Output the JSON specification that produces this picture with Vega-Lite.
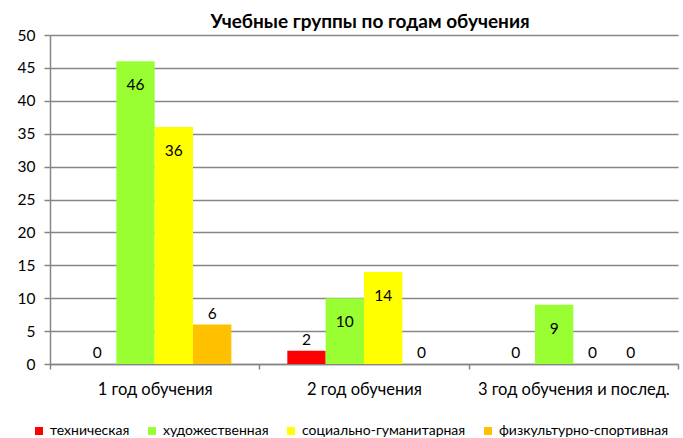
{
  "$schema": "https://vega.github.io/schema/vega-lite/v6.json",
  "width": 628,
  "height": 329,
  "autosize": {"type": "none"},
  "padding": {"left": 50, "top": 35, "right": 5, "bottom": 74},
  "background": "white",
  "config": {"font": "Lato", "view": {"stroke": null}},
  "title": {"text": "Учебные группы по годам обучения", "font": "Lato", "fontSize": 19, "fontWeight": "bold", "color": "black", "anchor": "middle", "offset": -4, "dx": 6},
  "data": {"values": [
    {"year": "1 год обучения", "dir": "техническая", "value": 0},
    {"year": "1 год обучения", "dir": "художественная", "value": 46},
    {"year": "1 год обучения", "dir": "социально-гуманитарная", "value": 36},
    {"year": "1 год обучения", "dir": "физкультурно-спортивная", "value": 6},
    {"year": "2 год обучения", "dir": "техническая", "value": 2},
    {"year": "2 год обучения", "dir": "художественная", "value": 10},
    {"year": "2 год обучения", "dir": "социально-гуманитарная", "value": 14},
    {"year": "2 год обучения", "dir": "физкультурно-спортивная", "value": 0},
    {"year": "3 год обучения и послед.", "dir": "техническая", "value": 0},
    {"year": "3 год обучения и послед.", "dir": "художественная", "value": 9},
    {"year": "3 год обучения и послед.", "dir": "социально-гуманитарная", "value": 0},
    {"year": "3 год обучения и послед.", "dir": "физкультурно-спортивная", "value": 0}
  ]},
  "encoding": {
    "x": {
      "field": "year", "type": "nominal",
      "sort": ["1 год обучения", "2 год обучения", "3 год обучения и послед."],
      "scale": {"paddingInner": 0, "paddingOuter": 0},
      "axis": {"title": null, "labelAngle": 0, "labelLimit": 0, "labelOverlap": false, "labelFont": "Lato", "labelFontSize": 16.5, "labelColor": "black", "domainColor": "#868686", "domainWidth": 1.5, "tickColor": "#868686", "tickWidth": 1.5, "tickSize": 5, "tickBand": "extent", "labelPadding": 12, "grid": false}
    },
    "xOffset": {
      "field": "dir", "type": "nominal",
      "sort": ["техническая", "художественная", "социально-гуманитарная", "физкультурно-спортивная"],
      "scale": {"paddingInner": 0, "paddingOuter": 0.73}
    },
    "y": {
      "field": "value", "type": "quantitative",
      "scale": {"domain": [0, 50], "nice": false},
      "axis": {"title": null, "values": [0, 5, 10, 15, 20, 25, 30, 35, 40, 45, 50], "labelFont": "Lato", "labelFontSize": 15.5, "labelColor": "black", "domainColor": "#868686", "domainWidth": 1.5, "tickColor": "#868686", "tickWidth": 1.5, "tickSize": 6, "labelPadding": 9, "grid": true, "gridColor": "#868686", "gridWidth": 1.5}
    }
  },
  "layer": [
    {
      "mark": {"type": "bar"},
      "encoding": {
        "color": {
          "field": "dir", "type": "nominal",
          "sort": ["техническая", "художественная", "социально-гуманитарная", "физкультурно-спортивная"],
          "scale": {"domain": ["техническая", "художественная", "социально-гуманитарная", "физкультурно-спортивная"], "range": ["#FF0000", "#99FF33", "#FFFF00", "#FFC000"]},
          "legend": {"title": null, "orient": "none", "legendX": -18, "legendY": 389, "direction": "horizontal", "columns": 4, "symbolType": "square", "symbolSize": 64, "symbolStrokeWidth": 0, "labelFont": "Lato", "labelFontSize": 14, "labelLimit": 0, "labelColor": "black", "labelOffset": 4, "columnPadding": 15}
        }
      }
    },
    {
      "transform": [{"filter": "datum.value >= 9"}],
      "mark": {"type": "text", "baseline": "middle", "dy": 24, "font": "Lato", "fontSize": 15.5, "color": "black"},
      "encoding": {"text": {"field": "value", "type": "quantitative"}}
    },
    {
      "transform": [{"filter": "datum.value < 9"}],
      "mark": {"type": "text", "baseline": "middle", "dy": -11, "font": "Lato", "fontSize": 15.5, "color": "black"},
      "encoding": {"text": {"field": "value", "type": "quantitative"}}
    }
  ]
}
